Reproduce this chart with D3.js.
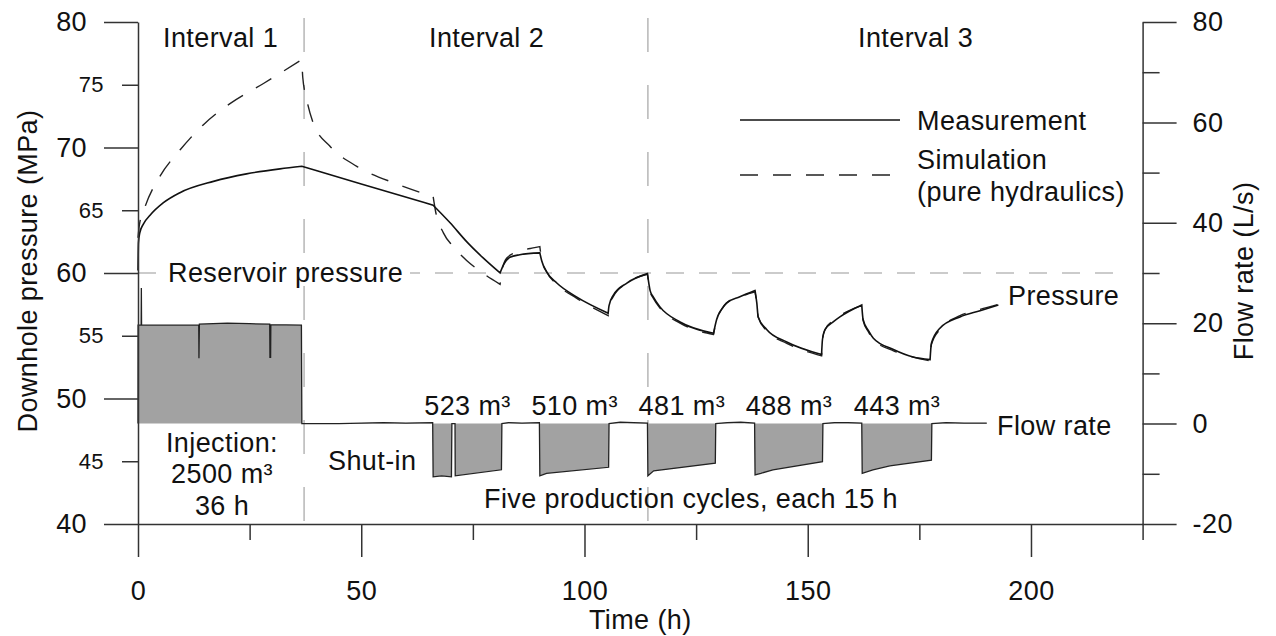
<!DOCTYPE html>
<html>
<head>
<meta charset="utf-8">
<script src="https://cdn.jsdelivr.net/npm/d3@7"></script>
<style>
  body { margin: 0; background: #fff; }
  text { font-family: "Liberation Sans", Arial, sans-serif; fill: #111; letter-spacing: 0.4px; }
</style>
</head>
<body>
<div id="chart"></div>
<script>
// time (h), downhole pressure (MPa)
const measuredPressure = [
  [0, 60.2], [0.1, 62.4], [0.4, 63.2], [1.2, 63.9], [2.7, 64.6], [5.7, 65.6], [9.4, 66.4],
  [16.9, 67.3], [24.3, 67.9], [31.8, 68.3], [36.7, 68.5],
  [50, 67.1], [66.1, 65.4],
  [69.9, 64.0], [73.6, 62.5], [77.3, 61.2], [81.1, 60.0],
  [81.8, 60.6], [83.3, 61.25], [85.5, 61.45], [90, 61.6],
  [90.4, 61.0], [91.5, 60.1], [93.8, 59.2], [98.2, 58.1], [105.3, 56.8],
  [105.5, 57.4], [106.4, 58.2], [109.5, 59.2], [114.1, 59.95],
  [114.7, 58.6], [115.4, 58.1], [116.9, 57.3], [121.4, 56.1], [128.9, 55.2],
  [129.6, 56.3], [130.7, 57.1], [131.8, 57.6], [134.8, 58.1], [138.2, 58.6],
  [138.6, 57.6], [138.9, 56.5], [140.8, 55.5], [145.3, 54.5], [153.1, 53.5],
  [153.3, 54.7], [153.9, 55.5], [155.7, 56.1], [157.2, 56.5], [162.1, 57.45],
  [162.4, 56.3], [163.6, 55.4], [164.7, 54.8], [169.2, 53.9], [173.6, 53.3], [177.4, 53.1],
  [177.7, 54.4], [179.6, 55.6], [184.1, 56.5], [188.6, 57.0], [192.7, 57.45]
];

const simulatedPressure = [
  [0, 62.8], [0.3, 63.8], [1.6, 65.3], [4.9, 67.7], [9.4, 69.8], [14.6, 71.8], [20.6, 73.5],
  [28.1, 75.1], [36.7, 77.0],
  [36.9, 75.6], [37.8, 73.8], [39.3, 71.9], [43, 70.1], [49, 68.5], [57.9, 67.1], [64.3, 66.3], [66.1, 66.1],
  [66.6, 65.0], [68.4, 63.2], [70.6, 62.1], [73.6, 61.0], [76.2, 60.25], [81.1, 59.1],
  [81.6, 60.3], [82.6, 61.2], [85.2, 61.7], [88.5, 62.0], [90, 62.1],
  [90.4, 61.1], [91.5, 60.1], [93.8, 59.1], [98.2, 58.0], [105.3, 56.6],
  [105.6, 57.4], [106.4, 58.1], [109.5, 59.2], [114.1, 59.9],
  [114.7, 58.5], [115.4, 58.0], [116.9, 57.2], [121.4, 56.0], [128.9, 55.1],
  [129.6, 56.3], [130.7, 57.1], [131.8, 57.6], [134.8, 58.1], [138.2, 58.5],
  [138.6, 57.5], [138.9, 56.5], [140.8, 55.4], [145.3, 54.4], [153.1, 53.4],
  [153.3, 54.7], [153.9, 55.5], [155.7, 56.2], [157.2, 56.6], [162.1, 57.4],
  [162.4, 56.2], [163.6, 55.3], [164.7, 54.7], [169.2, 53.8], [173.6, 53.3], [177.4, 53.0],
  [177.7, 54.3], [179.6, 55.5], [184.1, 56.6], [188.6, 57.1], [192.7, 57.5]
];

// times where the pressure curves have a corner (start/stop of a phase)
const cusps = [36.7, 66.1, 81.1, 90, 105.3, 114.1, 128.9, 138.2, 153.1, 162.1, 177.4];

// time (h), flow rate (L/s), injection positive, production negative
const flowRate = [
  [0, 0], [0.02, 19.6], [0.7, 19.6], [0.75, 27.0], [0.8, 19.6], [13.6, 19.6], [13.65, 13.0],
  [13.75, 19.8], [20, 20.0], [25, 19.9], [29.5, 19.8], [29.55, 13.2], [29.7, 13.2], [29.75, 19.7],
  [36.6, 19.6], [36.7, 0], [45, 0], [50, 0.1], [55, 0.2], [60, 0.1], [66.0, 0.2],
  [66.1, -10.6], [68, -10.4], [70.2, -10.6], [70.3, 0], [71.0, 0], [71.05, -10.4], [81.4, -9.2],
  [81.5, 0], [83, 0.2], [86, 0.1], [89.9, 0.2],
  [90.0, -10.4], [91.5, -9.9], [105.4, -8.7], [105.5, 0], [108, 0.3], [111, 0.2], [114.1, 0.1],
  [114.2, -10.4], [115.5, -9.4], [129.3, -7.9], [129.4, 0], [132, 0.2], [135, 0.3], [138.1, 0.1],
  [138.2, -10.2], [139.5, -9.9], [142.2, -9.2], [153.3, -7.6], [153.4, 0], [156, 0.2], [159, 0.2], [162.1, 0.1],
  [162.2, -9.9], [164.6, -9.2], [168.4, -8.4], [177.7, -7.3], [177.8, 0], [181, 0.2], [185, 0.1], [190.1, 0.1]
];

const cycleMid = [73.8, 97.8, 121.8, 145.8, 170.0];
const cycleVolume = [523, 510, 481, 488, 443];
const intervalBounds = [37.2, 114.2];
const reservoirPressure = 60;

const pressureTicks = [40, 50, 60, 70, 80];
const pressureMinor = [45, 55, 65, 75];
const flowTicks = [-20, 0, 20, 40, 60, 80];
const flowMinor = [-10, 10, 30, 50, 70];
const timeTicks = [0, 50, 100, 150, 200];
const timeMinor = [25, 75, 125, 175, 225];

const width = 1276, height = 636;
const font = '"Liberation Sans", Arial, sans-serif';

const svg = d3.select('#chart')
  .append('svg')
  .attr('width', width)
  .attr('height', height);

const x = d3.scaleLinear().domain([0, 225]).range([138, 1142.6]);
const yP = d3.scaleLinear().domain([40, 80]).range([524, 22]);
const yQ = d3.scaleLinear().domain([-20, 80]).range([524, 22]);

// grey guide lines
svg.append('g')
  .selectAll('line')
  .data(intervalBounds)
  .join('line')
  .attr('x1', d => x(d)).attr('x2', d => x(d))
  .attr('y1', 18).attr('y2', 524)
  .attr('stroke', '#bbb').attr('stroke-width', 1.6)
  .attr('stroke-dasharray', '34,33');

svg.append('line')
  .attr('x1', x(0)).attr('x2', x(218.8))
  .attr('y1', yP(reservoirPressure)).attr('y2', yP(reservoirPressure))
  .attr('stroke', '#bbb').attr('stroke-width', 1.6)
  .attr('stroke-dasharray', '18,15');

svg.append('rect')
  .attr('x', 162).attr('y', 259).attr('width', 248).attr('height', 27)
  .attr('fill', '#fff');

svg.append('text')
  .attr('x', 168).attr('y', 282)
  .attr('font-size', 27)
  .text('Reservoir pressure');

// flow rate
const area = d3.area()
  .x(d => x(d[0]))
  .y0(yQ(0))
  .y1(d => yQ(d[1]));

svg.append('path')
  .datum(flowRate)
  .attr('d', area)
  .attr('fill', '#a2a2a2');

svg.append('path')
  .datum(flowRate)
  .attr('d', d3.line().x(d => x(d[0])).y(d => yQ(d[1])))
  .attr('fill', 'none')
  .attr('stroke', '#222')
  .attr('stroke-width', 1.3);

// pressure curves: smooth inside each phase, sharp corner between phases
const pLine = d3.line()
  .x(d => x(d[0]))
  .y(d => yP(d[1]))
  .curve(d3.curveMonotoneX);

function splitAt(data, breaks) {
  const segs = [[]];
  data.forEach(d => {
    segs[segs.length - 1].push(d);
    if (breaks.includes(d[0])) segs.push([d]);
  });
  return segs.filter(s => s.length > 1);
}

function joinedPath(data) {
  return splitAt(data, cusps)
    .map((s, i) => i ? pLine(s).replace(/^M[^CL]*/, '') : pLine(s))
    .join('');
}

svg.append('path')
  .attr('d', joinedPath(simulatedPressure))
  .attr('fill', 'none')
  .attr('stroke', '#222')
  .attr('stroke-width', 1.4)
  .attr('stroke-dasharray', '18,15');

svg.append('path')
  .attr('d', joinedPath(measuredPressure))
  .attr('fill', 'none')
  .attr('stroke', '#111')
  .attr('stroke-width', 1.6);

// axes
function styleAxis(g, size) {
  g.attr('font-family', font).attr('font-size', size);
  g.selectAll('line, path').attr('stroke', '#333').attr('stroke-width', 1.5);
  g.selectAll('text').attr('fill', '#111');
}

svg.append('g')
  .attr('transform', `translate(${x(0)},0)`)
  .call(d3.axisLeft(yP).tickValues(pressureTicks).tickSize(34).tickPadding(17).tickSizeOuter(0))
  .call(g => styleAxis(g, 27));

svg.append('g')
  .attr('transform', `translate(${x(0)},0)`)
  .call(d3.axisLeft(yP).tickValues(pressureMinor).tickSize(16).tickPadding(18))
  .call(g => g.select('.domain').remove())
  .call(g => styleAxis(g, 22));

svg.append('g')
  .attr('transform', `translate(${x(225)},0)`)
  .call(d3.axisRight(yQ).tickValues(flowTicks).tickSize(34).tickPadding(16).tickSizeOuter(0)
    .tickFormat(d => String(d)))
  .call(g => styleAxis(g, 27));

svg.append('g')
  .attr('transform', `translate(${x(225)},0)`)
  .call(d3.axisRight(yQ).tickValues(flowMinor).tickSize(17).tickFormat(''))
  .call(g => g.select('.domain').remove())
  .call(g => styleAxis(g, 27));

svg.append('g')
  .attr('transform', `translate(0,${yP(40)})`)
  .call(d3.axisBottom(x).tickValues(timeTicks).tickSize(33).tickPadding(24).tickSizeOuter(0))
  .call(g => styleAxis(g, 27));

svg.append('g')
  .attr('transform', `translate(0,${yP(40)})`)
  .call(d3.axisBottom(x).tickValues(timeMinor).tickSize(16).tickFormat(''))
  .call(g => g.select('.domain').remove())
  .call(g => styleAxis(g, 27));

// axis titles
svg.append('text')
  .attr('transform', `translate(37,271) rotate(-90)`)
  .attr('text-anchor', 'middle')
  .attr('font-size', 27)
  .text('Downhole pressure (MPa)');

svg.append('text')
  .attr('transform', `translate(1253,271) rotate(-90)`)
  .attr('text-anchor', 'middle')
  .attr('font-size', 27)
  .text('Flow rate (L/s)');

svg.append('text')
  .attr('x', x(112.5)).attr('y', 629)
  .attr('text-anchor', 'middle')
  .attr('font-size', 27)
  .text('Time (h)');

// interval names
[['Interval 1', 163], ['Interval 2', 429], ['Interval 3', 858]].forEach(([t, px]) => {
  svg.append('text').attr('x', px).attr('y', 47).attr('font-size', 27).text(t);
});

// legend
svg.append('line')
  .attr('x1', 740).attr('x2', 900).attr('y1', 120).attr('y2', 120)
  .attr('stroke', '#111').attr('stroke-width', 1.6);
svg.append('line')
  .attr('x1', 740).attr('x2', 892).attr('y1', 175).attr('y2', 175)
  .attr('stroke', '#222').attr('stroke-width', 1.4).attr('stroke-dasharray', '18,15');
[['Measurement', 130], ['Simulation', 169], ['(pure hydraulics)', 201]].forEach(([t, by]) => {
  svg.append('text').attr('x', 917).attr('y', by).attr('font-size', 27).text(t);
});

// annotations
svg.append('text').attr('x', 1008).attr('y', 305).attr('font-size', 27).text('Pressure');
svg.append('text').attr('x', 997).attr('y', 435).attr('font-size', 27).text('Flow rate');

[['Injection:', 452], ['2500 m³', 483], ['36 h', 515]].forEach(([t, by]) => {
  svg.append('text').attr('x', 222).attr('y', by).attr('text-anchor', 'middle')
    .attr('font-size', 27).text(t);
});
svg.append('text').attr('x', 328).attr('y', 470).attr('font-size', 27).text('Shut-in');
svg.append('text').attr('x', 484).attr('y', 508).attr('font-size', 27)
  .text('Five production cycles, each 15 h');

svg.append('g')
  .selectAll('text')
  .data(cycleMid)
  .join('text')
  .attr('x', d => x(d))
  .attr('y', yQ(0) - 9)
  .attr('text-anchor', 'middle')
  .attr('font-size', 27)
  .text((d, i) => `${cycleVolume[i]} m³`);
</script>
</body>
</html>
